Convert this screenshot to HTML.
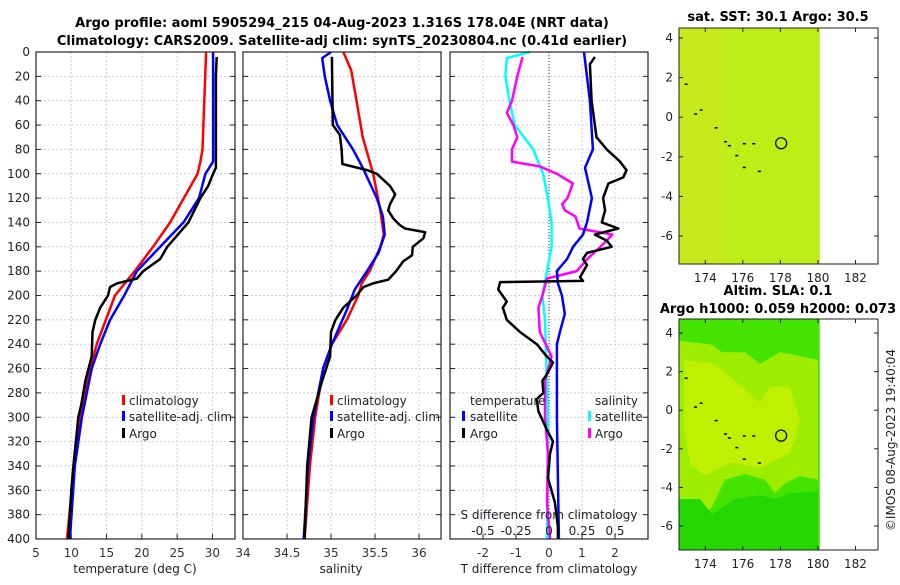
<!DOCTYPE html>
<html><head><meta charset="utf-8"><style>
body{margin:0;background:#fff}
svg{font-family:"DejaVu Sans","Liberation Sans",sans-serif}
</style></head><body>
<svg id="c" width="900" height="580" xmlns="http://www.w3.org/2000/svg">
<rect width="900" height="580" fill="#fff"/>
<g id="g"></g>
<text x="342" y="27" font-size="13" font-weight="bold" text-anchor="middle">Argo profile: aoml 5905294_215 04-Aug-2023 1.316S 178.04E (NRT data)</text>
<text x="342" y="45" font-size="13" font-weight="bold" text-anchor="middle">Climatology: CARS2009. Satellite-adj clim: synTS_20230804.nc (0.41d earlier)</text>
<text x="778" y="21" font-size="13" font-weight="bold" text-anchor="middle">sat. SST: 30.1 Argo: 30.5</text>
<text x="778" y="295" font-size="13" font-weight="bold" text-anchor="middle">Altim. SLA: 0.1</text>
<text x="778" y="313" font-size="13" font-weight="bold" text-anchor="middle">Argo h1000: 0.059 h2000: 0.073</text>
<text transform="translate(895,440) rotate(-90)" font-size="12" text-anchor="middle" fill="#222">©IMOS 08-Aug-2023 19:40:04</text>
</svg>
<script>
// ---- data ----
const depthsTRed=[0,80,90,100,140,160,180,200,240,260,300,340,400];
const tempClim=[29.1,28.6,28.3,27.9,24.0,21.6,19.0,16.2,13.6,12.7,11.2,10.4,9.4];
const depthsTBlue=[0,90,100,120,140,160,180,200,220,240,260,300,340,400];
const tempSat=[30.1,30.1,29.0,28.1,25.9,22.6,19.3,17.5,15.5,14.1,12.9,11.5,10.5,9.8];
const depthsTArgo=[4,20,95,100,110,120,140,160,170,180,186,190,193,200,210,220,230,250,270,290,300,340,360,400];
const tempArgo=[30.6,30.5,30.5,30.1,29.4,28.3,26.6,23.6,22.6,20.2,19.3,16.5,15.5,15.2,14.1,13.4,13.0,12.9,12.0,11.4,11.0,10.3,10.0,9.6];
const depthsSRed=[0,15,40,70,100,130,150,160,180,190,200,220,240,260,300,340,400];
const salClim=[35.14,35.23,35.29,35.36,35.48,35.56,35.6,35.56,35.44,35.35,35.31,35.18,35.01,34.91,34.82,34.76,34.7];
const depthsSBlue=[0,5,20,40,60,80,95,120,135,150,165,180,195,210,240,260,300,340,400];
const salSat=[35.0,34.9,34.93,34.99,35.07,35.25,35.36,35.52,35.59,35.61,35.54,35.41,35.27,35.19,35.01,34.91,34.8,34.74,34.69];
const depthsSArgo=[4,60,68,80,92,97,100,110,117,125,130,137,142,145,148,153,160,167,172,180,187,190,193,200,210,220,230,250,270,290,300,340,400];
const salArgo=[35.01,35.02,35.1,35.12,35.13,35.41,35.52,35.67,35.73,35.67,35.65,35.71,35.78,35.84,36.07,36.05,35.93,35.92,35.82,35.74,35.65,35.48,35.37,35.29,35.14,35.05,35.0,34.99,34.9,34.82,34.78,34.73,34.7];
const depthsDTSat=[0,40,80,95,120,140,150,160,170,180,190,200,215,230,240,300,400];
const dTSat=[1.06,1.24,1.33,1.09,1.3,1.15,1.03,0.73,0.55,0.24,0.27,0.39,0.48,0.33,0.24,0.24,0.3];
const depthsDTArgo=[4,10,40,70,80,90,97,103,108,120,130,140,145,150,155,160,165,170,175,185,188,189,195,205,210,220,230,240,250,255,265,270,280,285,295,310,320,330,350,370,390,400];
const dTArgo=[1.39,1.24,1.29,1.44,1.75,2.15,2.35,2.25,1.8,1.64,1.7,1.6,2.1,1.39,1.75,1.9,1.15,1.03,1.15,0.94,1.03,-1.48,-1.54,-1.28,-1.4,-1.28,-0.88,-0.37,-0.07,0.12,-0.07,-0.2,-0.17,-0.37,-0.32,-0.07,0.12,0.03,-0.03,0.18,0.27,0.27];
const depthsDSSat=[0,5,20,40,60,80,100,120,140,160,180,200,220,260,300,340,400];
const dSSat=[-0.144,-0.32,-0.33,-0.3,-0.26,-0.12,-0.045,-0.008,0.02,0.02,-0.015,-0.05,-0.03,-0.02,-0.008,-0.008,-0.015];
const depthsDSArgo=[4,20,40,50,60,70,80,90,94,100,108,120,125,130,135,145,150,160,170,180,186,200,210,230,250,270,300,330,370,400];
const dSArgo=[-0.2,-0.24,-0.28,-0.32,-0.27,-0.24,-0.28,-0.28,-0.07,0.06,0.18,0.14,0.1,0.12,0.2,0.23,0.48,0.39,0.29,0.21,-0.015,-0.05,-0.08,-0.07,0.02,-0.03,-0.03,-0.008,-0.015,0.008];
const depthTicks=[0,20,40,60,80,100,120,140,160,180,200,220,240,260,280,300,320,340,360,380,400];
const tempTicks=[5,10,15,20,25,30];
const salTicks=[34,34.5,35,35.5,36];
const dTTicks=[-2,-1,0,1,2];
const dSTicks=[-0.5,-0.25,0,0.25,0.5];
const lonTicks=[174,176,178,180,182];
const latTicks=[4,2,0,-2,-4,-6];
const floatLon=178.04, floatLat=-1.316;

// ---- helpers ----
const NS="http://www.w3.org/2000/svg", G=document.getElementById('g');
function el(t,a,p){const e=document.createElementNS(NS,t);for(const k in a)e.setAttribute(k,a[k]);(p||G).appendChild(e);return e;}
const Y0=52,Y1=539;
const yD=d=>Y0+d*(Y1-Y0)/400;
function lin(d0,d1,r0,r1){return v=>r0+(v-d0)*(r1-r0)/(d1-d0);}
const xT=lin(5,33.2,36,235), xS=lin(34,36.25,243,441), xDT=lin(-3,3,450,648), xDS=lin(-0.75,0.75,450,648);

function panel(x0,x1,xs,ticks,fmt,name,showTickLabels){
  const f=el('rect',{x:x0,y:Y0,width:x1-x0,height:Y1-Y0,fill:'#fff'});
  
  
  depthTicks.forEach(d=>{const l=el('line',{x1:x0,x2:x1,y1:yD(d),y2:yD(d),stroke:'#c8cce8','stroke-dasharray':'2,2','stroke-width':1});
    
    el('line',{x1:x0,x2:x0+5,y1:yD(d),y2:yD(d),stroke:'#222'});el('line',{x1:x1-5,x2:x1,y1:yD(d),y2:yD(d),stroke:'#222'});});
  ticks.forEach(v=>{const x=xs(v);const l=el('line',{x1:x,x2:x,y1:Y0,y2:Y1,stroke:'#c8cce8','stroke-dasharray':'2,2'});
    
    el('line',{x1:x,x2:x,y1:Y1-5,y2:Y1,stroke:'#222'});
    if(showTickLabels){const t=el('text',{x:x,y:Y1+18,'font-size':12,'text-anchor':'middle',fill:'#333'});t.textContent=fmt(v);
    }});
}
function line(ds,vs,xs,col,name,w){
  const pts=ds.map((d,i)=>xs(vs[i]).toFixed(1)+','+yD(d).toFixed(1)).join(' ');
  const p=el('polyline',{points:pts,fill:'none',stroke:col,'stroke-width':w||2.5,'stroke-linejoin':'round'});
  
  
}
function txt(x,y,s,name,size,anchor){const t=el('text',{x:x,y:y,'font-size':size||12,'text-anchor':anchor||'start',fill:'#222'});t.textContent=s;
  return t;}
function legendMark(x,y,col,name){const r=el('rect',{x:x,y:y-11,width:3,height:10,fill:col});
  }

// panel 1
panel(36,235,xT,tempTicks,v=>v,'temperature-panel',true);
line(depthsTRed,tempClim,xT,'#f00','temperature-climatology-line');
line(depthsTBlue,tempSat,xT,'#00f','temperature-satellite-line');
line(depthsTArgo,tempArgo,xT,'#000','temperature-argo-line');
depthTicks.forEach(d=>{txt(30,yD(d)+4,String(d),'depth-tick-label',12,'end');});
txt(135,573,'temperature (deg C)','temperature-x-axis-title',12,'middle');
legendMark(122,406,'#f00','legend-climatology-marker');txt(129,405,'climatology','legend-climatology',12);
legendMark(122,422,'#00f','legend-satellite-marker');txt(129,421,'satellite-adj. clim','legend-satellite',12);
legendMark(122,439,'#000','legend-argo-marker');txt(129,438,'Argo','legend-argo',12);

// panel 2
panel(243,441,xS,salTicks,v=>v,'salinity-panel',true);
line(depthsSRed,salClim,xS,'#f00','salinity-climatology-line');
line(depthsSBlue,salSat,xS,'#00f','salinity-satellite-line');
line(depthsSArgo,salArgo,xS,'#000','salinity-argo-line');
txt(341,573,'salinity','salinity-x-axis-title',12,'middle');
legendMark(330,406,'#f00','legend2-climatology-marker');txt(337,405,'climatology','legend2-climatology',12);
legendMark(330,422,'#00f','legend2-satellite-marker');txt(337,421,'satellite-adj. clim','legend2-satellite',12);
legendMark(330,439,'#000','legend2-argo-marker');txt(337,438,'Argo','legend2-argo',12);

// panel 3
panel(450,648,xDT,dTTicks,v=>v,'difference-panel',true);
const z=el('line',{x1:xDT(0),x2:xDT(0),y1:Y0,y2:Y1,stroke:'#333','stroke-dasharray':'1,2'});

line(depthsDSSat,dSSat,xDS,'#0ff','salinity-satellite-difference-line');
line(depthsDSArgo,dSArgo,xDS,'#f0f','salinity-argo-difference-line');
line(depthsDTSat,dTSat,xDT,'#00f','temperature-satellite-difference-line');
line(depthsDTArgo,dTArgo,xDT,'#000','temperature-argo-difference-line');
txt(470,405,'temperature','legend3-temperature-header',12);
legendMark(462,422,'#00f','legend3-tsat-marker');txt(470,421,'satellite','legend3-temperature-satellite',12);
legendMark(462,439,'#000','legend3-targo-marker');txt(470,438,'Argo','legend3-temperature-argo',12);
txt(595,405,'salinity','legend3-salinity-header',12);
legendMark(588,422,'#0ff','legend3-ssat-marker');txt(595,421,'satellite','legend3-salinity-satellite',12);
legendMark(588,439,'#f0f','legend3-sargo-marker');txt(595,438,'Argo','legend3-salinity-argo',12);
txt(549,519,'S difference from climatology','s-difference-axis-title',12,'middle');
dSTicks.forEach(v=>txt(xDS(v),535,String(v),'s-difference-tick-label',12,'middle'));
txt(549,573,'T difference from climatology','t-difference-axis-title',12,'middle');
[[36,235],[243,441],[450,648]].forEach(([a,b])=>{const r=el('rect',{x:a,y:Y0,width:b-a,height:Y1-Y0,fill:'none',stroke:'#222','stroke-width':1.2});
  });

// maps
function map(top,bot,lat4y,latm6y,name,sla){
  const mx=lin(172.6,183.2,679,878), my=lin(4,-6,lat4y,latm6y);
  const g=el('g',{});
  const iw=mx(180.1)-679;
  if(!sla){
    el('rect',{x:679,y:top,width:iw,height:bot-top,fill:'#bdee18'},g);
    el('rect',{x:679,y:top,width:45,height:bot-top,fill:'#cbe820',opacity:0.6},g);
  }else{
    el('rect',{x:679,y:top,width:iw,height:bot-top,fill:'#44e400'},g);
    el('path',{d:`M679 ${my(3.6)} L712 ${my(3.4)} L722 ${my(3.0)} L745 ${my(3.0)} L760 ${my(2.4)} L780 ${my(3.0)} L800 ${my(2.8)} L818 ${my(2.6)} L818 ${my(-3.6)} L800 ${my(-3.4)} L785 ${my(-3.8)} L775 ${my(-4.3)} L765 ${my(-3.6)} L745 ${my(-3.3)} L725 ${my(-3.6)} L712 ${my(-5.0)} L700 ${my(-5.6)} L679 ${my(-5.5)} Z`,fill:'#9eec00'},g);
    el('path',{d:`M684 ${my(2.6)} L715 ${my(2.4)} L740 ${my(1.3)} L760 ${my(0.4)} L770 ${my(1.2)} L790 ${my(1.2)} L800 ${my(-0.5)} L790 ${my(-2.2)} L775 ${my(-2.6)} L760 ${my(-3.0)} L730 ${my(-2.7)} L705 ${my(-3.4)} L690 ${my(-2.8)} L684 ${my(-1)} Z`,fill:'#bef000'},g);
    el('path',{d:`M679 ${my(-4.6)} L700 ${my(-4.6)} L712 ${my(-5.4)} L735 ${my(-4.6)} L760 ${my(-4.4)} L775 ${my(-4.6)} L790 ${my(-4.3)} L818 ${my(-4.2)} L818 ${bot} L679 ${bot} Z`,fill:'#22d800'},g);
  }
  const c=el('circle',{cx:mx(floatLon),cy:my(floatLat),r:5.5,fill:'none',stroke:'#111','stroke-width':1.3},g);
  
  [[174.5,-0.5],[175,-1.2],[175.2,-1.4],[175.6,-1.9],[176,-1.3],[176.5,-1.3],[176,-2.5],[176.8,-2.7],[173.4,0.2],[172.9,1.7],[173.7,0.4]].forEach(([lo,la])=>
    el('rect',{x:mx(lo),y:my(la),width:3,height:1.5,fill:'#000'},g));
  const f=el('rect',{x:679,y:top,width:199,height:bot-top,fill:'none',stroke:'#222'});
  
  latTicks.forEach(v=>{txt(673,my(v)+4,String(v),name+'-lat-tick-label',12,'end');
    el('line',{x1:679,x2:683,y1:my(v),y2:my(v),stroke:'#222'});el('line',{x1:874,x2:878,y1:my(v),y2:my(v),stroke:'#222'});});
  lonTicks.forEach(v=>{txt(mx(v),bot+18,String(v),name+'-lon-tick-label',12,'middle');
    el('line',{x1:mx(v),x2:mx(v),y1:bot-4,y2:bot,stroke:'#222'});el('line',{x1:mx(v),x2:mx(v),y1:top,y2:top+4,stroke:'#222'});});
}
map(28,264,38,236,'sst-map',false);
map(319,550,333,526,'sla-map',true);
</script>
</body></html>
